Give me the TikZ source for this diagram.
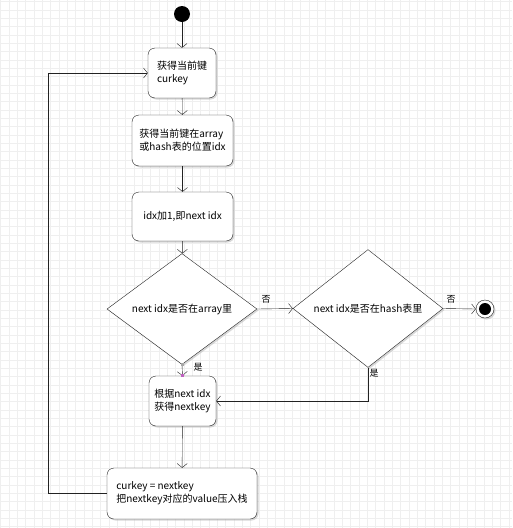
\documentclass[tikz,border=0pt]{standalone}
\usepackage{fontspec}
\setmainfont{Noto Sans CJK SC}
\usepackage{xcolor}
\usepackage{tikz}
\usetikzlibrary{arrows.meta,shapes.geometric,shadows}

\definecolor{gridgray}{HTML}{EFEFEF}
\definecolor{edgegray}{HTML}{222222}
\definecolor{pickpink}{HTML}{C060C0}

\begin{document}
\begin{tikzpicture}[x=1pt, y=-1pt,
    font=\fontsize{10}{13}\selectfont,
    shade/.style={drop shadow={shadow xshift=1.5pt, shadow yshift=-1.5pt, fill=black!30, opacity=0.5}},
    act/.style={draw=edgegray, fill=white, rounded corners=7pt, align=left, inner sep=0pt, shade},
    choice/.style={draw=edgegray, fill=white, diamond, inner sep=0pt, shade},
    flow/.style={draw=edgegray, -{Straight Barb[length=4pt,width=10pt]}},
    tag/.style={font=\fontsize{9}{10}\selectfont, inner sep=0pt}]
      % background grid
      \fill[white] (0,0) rectangle (512,528);
      \useasboundingbox (0,0) rectangle (512,528);
      \foreach \i in {0,...,61}
        \draw[gridgray, line width=0.8pt] (0.7+8.333*\i, 0) -- (0.7+8.333*\i, 528);
      \foreach \i in {0,...,63}
        \draw[gridgray, line width=0.8pt] (0, 1.7+8.333*\i) -- (512, 1.7+8.333*\i);

      % states
      \node[circle, fill=black, minimum size=16pt, inner sep=0pt] (start) at (182,14) {};
      \node[act, minimum width=68pt, minimum height=50pt] (curkey) at (182,73) {获得当前键\\curkey};
      \node[act, minimum width=101pt, minimum height=51pt] (pos) at (182.5,140.5) {获得当前键在array\\或hash表的位置idx};
      \node[act, minimum width=101pt, minimum height=49pt] (inc) at (182.5,216.5) {idx加1,即next idx};
      \node[choice, minimum width=150pt, minimum height=84pt] (inarray) at (182,309) {next idx是否在array里};
      \node[choice, minimum width=150pt, minimum height=101pt] (inhash) at (368,308.5) {next idx是否在hash表里};
      \node[circle, draw=edgegray, fill=white, minimum size=18pt, inner sep=0pt, shade] (stop) at (485,309) {};
      \node[circle, fill=black, minimum size=12pt, inner sep=0pt] (stopdot) at (stop) {};
      \node[act, minimum width=67pt, minimum height=50pt] (getnext) at (182.5,401) {根据next idx\\获得nextkey};
      \node[act, minimum width=150pt, minimum height=51pt] (push) at (182,493.5) {curkey = nextkey\\把nextkey对应的value压入栈};

      % transitions
      \draw[flow] (start) -- (curkey);
      \draw[flow] (curkey) -- (pos);
      \draw[flow] (pos) -- (inc);
      \draw[flow] (inc) -- (inarray);
      \draw[flow] (inarray.east) -- (inhash.west);
      \draw[flow] (inhash.east) -- (stop.west);
      \draw[flow] (inarray.south) -- (getnext.north);
      \draw[flow] (inhash.south) |- (getnext.east);
      \draw[flow] (getnext) -- (push);
      \draw[flow] (push.west) -- ++(-59,0) |- (curkey.west);

      % guards
      \node[tag] (no1) at (266,299) {否};
      \node[tag] (no2) at (451,299) {否};
      \node[tag] (yes1) at (198,367) {是};
      \node[tag] (yes2) at (374,373) {是};

      % selection handles
      \fill[black!35] ([shift={(-1.5,-1.5)}]inarray.south) rectangle ++(3,3);
      \fill[pickpink] ([shift={(-1.5,-1.5)}]getnext.north) rectangle ++(3,3);
    \end{tikzpicture}
\end{document}
